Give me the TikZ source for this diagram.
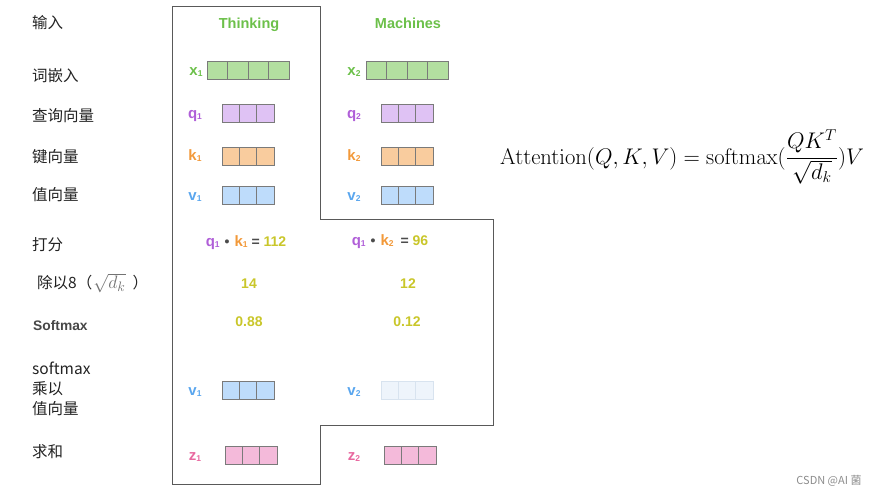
\documentclass[tikz,border=0pt]{standalone}
\usepackage[no-math]{fontspec}
\setmainfont{Liberation Sans}
\newfontfamily\cjk{Noto Sans CJK SC}
\definecolor{cgreen}{HTML}{6CC04A}
\definecolor{cpurple}{HTML}{B05FD8}
\definecolor{corange}{HTML}{F2993A}
\definecolor{cblue}{HTML}{5AA6EE}
\definecolor{cpink}{HTML}{E8689F}
\definecolor{colive}{HTML}{C9C62A}
\definecolor{fgreen}{HTML}{B3DFA0}
\definecolor{fpurple}{HTML}{DFC2F4}
\definecolor{forange}{HTML}{F9CC9E}
\definecolor{fblue}{HTML}{BEDCFB}
\definecolor{fpink}{HTML}{F4BADA}
\definecolor{ffade}{HTML}{EEF4FB}
\definecolor{dfade}{HTML}{D8E3EF}
\definecolor{cellline}{HTML}{7A7A7A}
\definecolor{txt}{HTML}{222222}
\newcommand\sbs[1]{{\fontsize{8.5}{9}\selectfont\raisebox{-1pt}{#1}}}
\newcommand\strip[7]{%
  \foreach \i in {1,...,#4}{%
    \node[cellbox, fill=#6, draw=#7, minimum width=#5pt] (#1-\i) at ({#2+(\i-1)*#5}, #3) {};}}
\tikzset{
  lbl/.style={font=\cjk\fontsize{15.5}{20}\selectfont, text=txt, anchor=west, inner sep=0pt},
  hdr/.style={font=\bfseries\fontsize{14.5}{16}\selectfont, text=cgreen, anchor=base, inner sep=0pt},
  var/.style={font=\bfseries\fontsize{15}{17}\selectfont, anchor=base, inner sep=0pt},
  num/.style={font=\bfseries\fontsize{14}{16}\selectfont, text=colive, anchor=base, inner sep=0pt},
  cellbox/.style={draw=cellline, line width=0.8pt, minimum height=18pt, inner sep=0pt, outer sep=0pt, anchor=north west},
  outline/.style={draw=black!65, line width=1pt}
}
\begin{document}
\begin{tikzpicture}[x=1pt,y=-1pt]
\useasboundingbox (0,0) rectangle (879,496);
% outline
\draw[outline] (172,6) -- (320,6) -- (320,219) -- (493,219) -- (493,425) -- (320,425) -- (320,484) -- (172,484) -- cycle;
% left labels
\node[lbl] (l1) at (32,23) {输入};
\node[lbl] (l2) at (32,76) {词嵌入};
\node[lbl] (l3) at (32,116) {查询向量};
\node[lbl] (l4) at (32,157) {键向量};
\node[lbl] (l5) at (32,195) {值向量};
\node[lbl] (l6) at (32,245) {打分};
\node[lbl] (l7) at (37,283) {除以8（\hspace{1pt}{\color{black!55}\scalebox{1.25}{$\sqrt{d_k}$}}\hspace{7pt}）};
\node[lbl, font=\bfseries\fontsize{13.8}{15}\selectfont, text=black!72] (l8) at (33,326) {Softmax};
\node[lbl, align=left] (l9) at (32,389) {softmax\\乘以\\值向量};
\node[lbl] (l10) at (32,452) {求和};
% headers
\node[hdr] (h1) at (249,28) {Thinking};
\node[hdr] (h2) at (408,28) {Machines};
% strips column 1
\strip{x1}{207}{61}{4}{20.5}{fgreen}{cellline}
\strip{q1}{222}{104}{3}{17.33}{fpurple}{cellline}
\strip{k1}{222}{147}{3}{17.33}{forange}{cellline}
\strip{v1}{222}{186}{3}{17.33}{fblue}{cellline}
\strip{vb1}{222}{381}{3}{17.33}{fblue}{cellline}
\strip{z1}{225}{446}{3}{17.33}{fpink}{cellline}
% strips column 2
\strip{x2}{366}{61}{4}{20.5}{fgreen}{cellline}
\strip{q2}{381}{104}{3}{17.33}{fpurple}{cellline}
\strip{k2}{381}{147}{3}{17.33}{forange}{cellline}
\strip{v2}{381}{186}{3}{17.33}{fblue}{cellline}
\strip{vb2}{381}{381}{3}{17.33}{ffade}{dfade}
\strip{z2}{384}{446}{3}{17.33}{fpink}{cellline}
% variable labels
\node[var, text=cgreen] (tx1) at (196,75) {x\sbs{1}};
\node[var, text=cpurple] (tq1) at (195,118) {q\sbs{1}};
\node[var, text=corange] (tk1) at (195,160) {k\sbs{1}};
\node[var, text=cblue] (tv1) at (195,200) {v\sbs{1}};
\node[var, text=cblue] (tvb1) at (195,395) {v\sbs{1}};
\node[var, text=cpink] (tz1) at (195,460) {z\sbs{1}};
\node[var, text=cgreen] (tx2) at (354,75) {x\sbs{2}};
\node[var, text=cpurple] (tq2) at (354,118) {q\sbs{2}};
\node[var, text=corange] (tk2) at (354,160) {k\sbs{2}};
\node[var, text=cblue] (tv2) at (354,200) {v\sbs{2}};
\node[var, text=cblue] (tvb2) at (354,395) {v\sbs{2}};
\node[var, text=cpink] (tz2) at (354,460) {z\sbs{2}};
% scores
\node[num] (s1) at (246,246) {{\color{cpurple}\fontsize{15}{17}\selectfont q\sbs{1}}\hspace{5pt}{\color{black!70}\textbullet}\hspace{5pt}{\color{corange}\fontsize{15}{17}\selectfont k\sbs{1}} {\color{black!70}=} 112};
\node[num] (s2) at (390,245) {{\color{cpurple}\fontsize{15}{17}\selectfont q\sbs{1}}\hspace{5pt}{\color{black!70}\textbullet}\hspace{5pt}{\color{corange}\fontsize{15}{17}\selectfont k\sbs{2}}\hspace{3pt} {\color{black!70}=} 96};
\node[num] (d1) at (249,288) {14};
\node[num] (d2) at (408,288) {12};
\node[num] (p1) at (249,326) {0.88};
\node[num] (p2) at (407,326) {0.12};
% formula
\node[anchor=base west, inner sep=0pt, font=\huge] (f) at (500,164)
  {\scalebox{1.09}{$\displaystyle \mathrm{Attention}(Q,K,V)=\mathrm{softmax}(\frac{QK^T}{\sqrt{d_k}})V$}};
% watermark
\node[font=\cjk\fontsize{11}{12}\selectfont, text=black!45, inner sep=0pt] (wm) at (829,481) {CSDN @AI 菌};
\end{tikzpicture}
\end{document}
